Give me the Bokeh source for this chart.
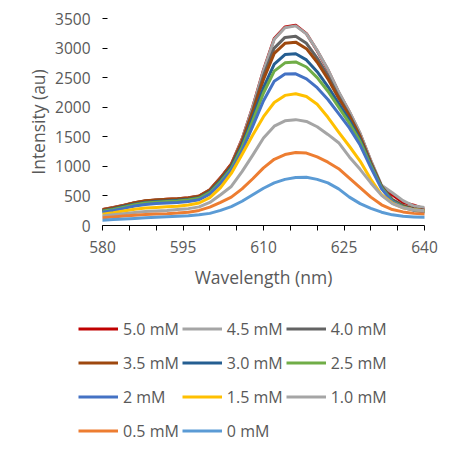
from bokeh.plotting import figure
from bokeh.layouts import column
from bokeh.models import Legend, LegendItem, FixedTicker, Range1d
from bokeh.embed import file_html
from bokeh.resources import INLINE

# Emission spectra, sampled every 2 nm
wavelength = [580, 582, 584, 586, 588, 590, 592, 594, 596, 598,
              600, 602, 604, 606, 608, 610, 612, 614, 616, 618,
              620, 622, 624, 626, 628, 630, 632, 634, 636, 638, 640]

i_5_0 = [270, 305, 345, 385, 415, 432, 442, 452, 468, 498,
         605, 810, 1040, 1460, 2010, 2630, 3160, 3355, 3385, 3245,
         2955, 2630, 2250, 1920, 1550, 1090, 660, 520, 390, 345, 280]
i_4_5 = [265, 300, 340, 385, 415, 430, 440, 450, 465, 495,
         600, 800, 1030, 1450, 2000, 2620, 3150, 3345, 3375, 3240,
         2960, 2640, 2260, 1930, 1560, 1100, 680, 555, 420, 330, 305]
i_4_0 = [260, 295, 335, 380, 410, 425, 435, 445, 460, 490,
         590, 790, 1020, 1420, 1950, 2530, 3000, 3180, 3200, 3080,
         2830, 2530, 2180, 1870, 1510, 1060, 660, 440, 340, 285, 260]
i_3_5 = [265, 300, 340, 385, 418, 432, 442, 452, 467, 497,
         600, 800, 1030, 1420, 1920, 2470, 2910, 3080, 3100, 2990,
         2760, 2480, 2150, 1850, 1500, 1060, 660, 430, 330, 280, 255]
i_3_0 = [245, 280, 320, 360, 390, 405, 415, 425, 440, 470,
         570, 760, 990, 1360, 1830, 2330, 2730, 2890, 2905, 2800,
         2600, 2350, 2060, 1780, 1450, 1030, 650, 420, 320, 270, 245]
i_2_5 = [240, 270, 310, 350, 380, 395, 405, 415, 430, 460,
         555, 740, 960, 1320, 1770, 2240, 2610, 2750, 2765, 2680,
         2500, 2270, 2000, 1730, 1420, 1010, 640, 410, 315, 265, 240]
i_2_0 = [225, 255, 290, 330, 355, 370, 380, 390, 405, 435,
         530, 710, 930, 1260, 1680, 2110, 2440, 2560, 2565, 2480,
         2330, 2130, 1890, 1650, 1360, 980, 620, 400, 305, 255, 230]
i_1_5 = [190, 215, 245, 275, 295, 305, 315, 325, 345, 380,
         470, 640, 880, 1200, 1530, 1840, 2080, 2200, 2227, 2180,
         2050, 1830, 1580, 1340, 1090, 780, 520, 380, 300, 265, 250]
i_1_0 = [160, 180, 200, 220, 235, 245, 255, 270, 285, 315,
         390, 520, 660, 910, 1190, 1480, 1680, 1770, 1790, 1760,
         1670, 1540, 1400, 1160, 950, 720, 510, 370, 300, 265, 250]
i_0_5 = [130, 145, 160, 175, 185, 195, 200, 210, 225, 255,
         310, 390, 480, 620, 790, 975, 1120, 1200, 1235, 1225,
         1160, 1070, 960, 800, 640, 480, 350, 270, 230, 205, 195]
i_0_0 = [90, 100, 110, 120, 130, 140, 148, 158, 165, 180,
         205, 255, 320, 410, 520, 630, 720, 780, 812, 815,
         780, 720, 620, 480, 370, 290, 225, 180, 155, 145, 138]

labels = ["5.0 mM", "4.5 mM", "4.0 mM", "3.5 mM", "3.0 mM", "2.5 mM",
          "2 mM", "1.5 mM", "1.0 mM", "0.5 mM", "0 mM"]
values = [i_5_0, i_4_5, i_4_0, i_3_5, i_3_0, i_2_5,
          i_2_0, i_1_5, i_1_0, i_0_5, i_0_0]
colors = ["#C00000", "#A5A5A5", "#636363", "#9E480E", "#255E91", "#70AD47",
          "#4472C4", "#FFC000", "#A5A5A5", "#ED7D31", "#5B9BD5"]

x_ticks = [580, 585, 590, 595, 600, 605, 610, 615, 620, 625, 630, 635, 640]
x_labelled = [580, 595, 610, 625, 640]
y_ticks = [0, 500, 1000, 1500, 2000, 2500, 3000, 3500]

FONT = "Open Sans"
TEXT = "#595959"

# Spectrum chart
p = figure(width=458, height=300, output_backend="svg", toolbar_location=None,
           x_range=Range1d(580, 640), y_range=Range1d(0, 3500),
           min_border_left=102, min_border_right=34,
           min_border_top=18, min_border_bottom=75)
p.outline_line_color = None
p.grid.visible = False
p.background_fill_color = "white"
p.border_fill_color = "white"
p.frame_align = False

for lab, vals, col in zip(labels, values, colors):
    p.line(wavelength, vals, line_color=col, line_width=3,
           line_join="round", line_cap="round")

xa = p.xaxis[0]
xa.ticker = FixedTicker(ticks=x_ticks)
xa.major_label_overrides = {t: ("" if t not in x_labelled else str(t)) for t in x_ticks}
xa.minor_tick_line_color = None
xa.major_tick_in = 0
xa.major_tick_out = 5
xa.axis_line_color = "black"
xa.major_tick_line_color = "black"
xa.major_label_text_font = FONT
xa.major_label_text_font_size = "15.5px"
xa.major_label_text_color = TEXT
xa.major_label_standoff = 10
xa.axis_label = "Wavelength (nm)"
xa.axis_label_text_font = FONT
xa.axis_label_text_font_size = "17.5px"
xa.axis_label_text_font_style = "normal"
xa.axis_label_text_color = TEXT
xa.axis_label_standoff = 9

ya = p.yaxis[0]
ya.ticker = FixedTicker(ticks=y_ticks)
ya.minor_tick_line_color = None
ya.axis_line_color = None
ya.major_tick_in = 5
ya.major_tick_out = 0
ya.major_tick_line_color = "black"
ya.major_label_text_font = FONT
ya.major_label_text_font_size = "15.5px"
ya.major_label_text_color = TEXT
ya.major_label_standoff = 12
ya.axis_label = "Intensity (au)"
ya.axis_label_text_font = FONT
ya.axis_label_text_font_size = "17.5px"
ya.axis_label_text_font_style = "normal"
ya.axis_label_text_color = TEXT
ya.axis_label_standoff = 2

# Legend panel underneath the chart (its series sit outside its ranges)
lg = figure(width=458, height=156, output_backend="svg", toolbar_location=None,
            x_range=Range1d(0, 1), y_range=Range1d(0, 1),
            x_axis_location=None, y_axis_location=None, min_border=0)
lg.outline_line_color = None
lg.grid.visible = False
lg.background_fill_color = "white"
lg.border_fill_color = "white"
lg.frame_align = False

items = []
for lab, vals, col in zip(labels, values, colors):
    r = lg.line(wavelength, vals, line_color=col, line_width=3)
    items.append(LegendItem(label=lab, renderers=[r]))

legend = Legend(items=items, orientation="horizontal", ncols=3,
                location=(78, 10),
                label_text_font=FONT, label_text_font_size="16px",
                label_text_color=TEXT,
                glyph_width=40, glyph_height=31, label_height=31,
                label_standoff=5, spacing=3, padding=0, margin=0,
                border_line_color=None, background_fill_alpha=0)
lg.add_layout(legend)

layout = column(p, lg, spacing=0)
open("out.html", "w").write(file_html(layout, INLINE))
